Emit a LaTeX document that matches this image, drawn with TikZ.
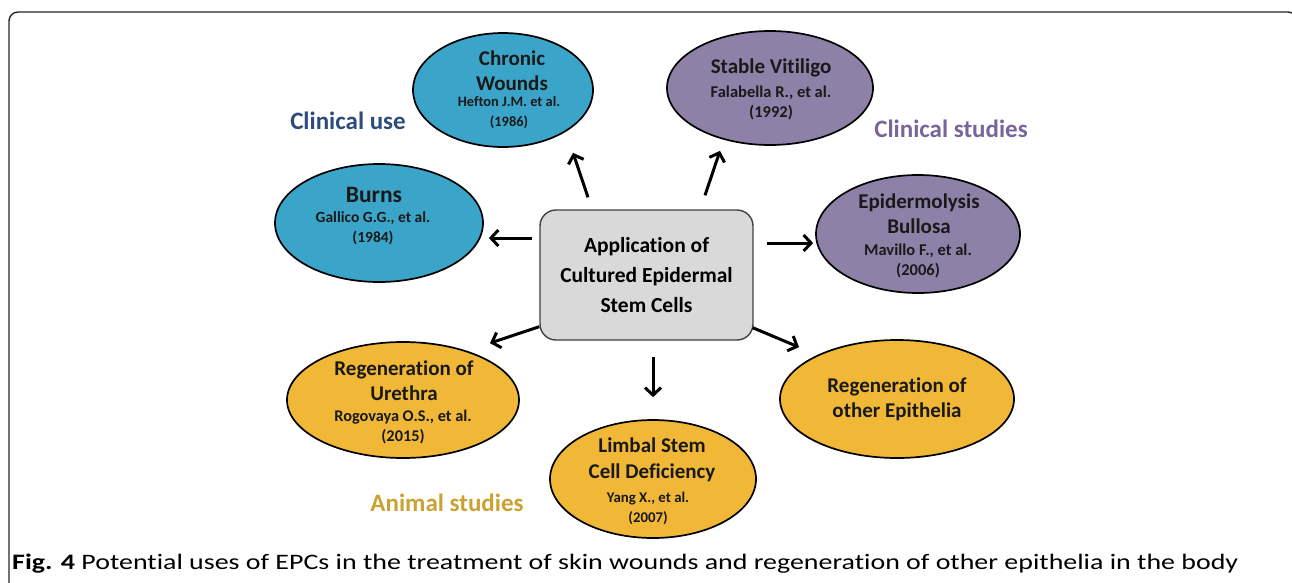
\documentclass[tikz,border=0pt]{standalone}
\usepackage{fontspec}
\setmainfont{Carlito}[Ligatures=NoCommon]
\usetikzlibrary{shapes.geometric,arrows.meta,calc}
\definecolor{cblue}{HTML}{3BA4C9}
\definecolor{cpurple}{HTML}{8D81A8}
\definecolor{cyellow}{HTML}{F1B838}
\definecolor{lblue}{HTML}{2D4C7C}
\definecolor{lpurple}{HTML}{76669A}
\definecolor{lyellow}{HTML}{C9A232}
\definecolor{boxgray}{HTML}{D9D9D9}
\begin{document}
\begin{tikzpicture}[x=1pt,y=-1pt,
  oval/.style={ellipse, draw=black, line width=1.7pt, inner sep=0pt},
  ttl/.style={align=center, font=\bfseries\fontsize{21}{25.5}\selectfont, inner sep=0pt, text=black!90},
  refs/.style={align=center, font=\bfseries\fontsize{#1}{20}\selectfont, inner sep=0pt, text=black!90},
  refs/.default=16,
  grp/.style={font=\bfseries\fontsize{25}{30}\selectfont, inner sep=0pt},
  arr/.style={line width=3pt, -{Straight Barb[length=7.5pt,width=16pt]}},
]
\useasboundingbox (0,0) rectangle (1292,582);
\begin{scope}
  \clip (0,0) rectangle (1292,582);
  \draw[line width=1.4pt, rounded corners=9pt, draw=black!85] (9,12) rectangle (1297,640);
\end{scope}

% ellipses
\node[oval, fill=cblue, minimum width=180pt, minimum height=114pt] (cw) at (503,90) {};
\node[oval, fill=cpurple, minimum width=206pt, minimum height=114pt] (sv) at (770,88) {};
\node[oval, fill=cblue, minimum width=208pt, minimum height=118pt] (bu) at (379,223) {};
\node[oval, fill=cpurple, minimum width=204pt, minimum height=118pt] (eb) at (918,234) {};
\node[oval, fill=cyellow, minimum width=232pt, minimum height=116pt] (ur) at (403,400) {};
\node[oval, fill=cyellow, minimum width=206pt, minimum height=118pt] (ls) at (653,479) {};
\node[oval, fill=cyellow, minimum width=234pt, minimum height=118pt] (oe) at (897,399) {};

% ellipse texts
\node[ttl] (cw-t) at (512,70.5) {Chronic\\Wounds};
\node[refs=14.4] (cw-r) at (509,112.5) {Hefton J.M. et al.\\(1986)};
\node[ttl] (sv-t) at (771,68) {Stable Vitiligo};
\node[refs=16.5] (sv-r) at (771,102.5) {Falabella R., et al.\\(1992)};
\node[ttl, font=\bfseries\fontsize{23.5}{25.5}\selectfont] (bu-t) at (374,195) {Burns};
\node[refs=15.5] (bu-r) at (373,228) {Gallico G.G., et al.\\(1984)};
\node[ttl] (eb-t) at (919,213.5) {Epidermolysis\\Bullosa};
\node[refs=16.5] (eb-r) at (918,261) {Mavillo F., et al.\\(2006)};
\node[ttl] (ur-t) at (404,380.5) {Regeneration of\\Urethra};
\node[refs=16.3] (ur-r) at (403,427.5) {Rogovaya O.S., et al.\\(2015)};
\node[ttl] (ls-t) at (652,460) {Limbal Stem\\Cell Deficiency};
\node[refs=14.8] (ls-r) at (648,508) {Yang X., et al.\\(2007)};
\node[ttl] (oe-t) at (897,399.5) {Regeneration of\\other Epithelia};

% central box
\node[draw=black!75, line width=1.4pt, rounded corners=16pt, fill=boxgray,
      minimum width=213pt, minimum height=130pt, align=center, inner sep=0pt,
      font=\bfseries\fontsize{21.5}{30}\selectfont] (c) at (646.5,275)
      {Application of\\Cultured Epidermal\\Stem Cells};

% group labels
\node[grp, text=lblue] (lcu) at (348,121) {Clinical use};
\node[grp, text=lpurple] (lcs) at (951,129) {Clinical studies};
\node[grp, text=lyellow] (las) at (447,503) {Animal studies};

% arrows
\draw[arr] ([shift={(-58.5,-12)}]c.north) -- ([shift={(70,5)}]cw.south);
\draw[arr] ([shift={(58.5,-14)}]c.north) -- ([shift={(-50,5)}]sv.south);
\draw[arr] ([shift={(-7,-37)}]c.west) -- ([shift={(5,15)}]bu.east);
\draw[arr] ([shift={(13,-32)}]c.east) -- ([shift={(-2,9)}]eb.west);
\draw[arr] ([shift={(0,-14)}]c.south west) -- ([shift={(87,2)}]ur.north);
\draw[arr] ([shift={(6.5,16)}]c.south) -- ([shift={(0,-22)}]ls.north);
\draw[arr] ([shift={(-1,-13)}]c.south east) -- ([shift={(-98,8)}]oe.north);

% caption
\node[anchor=base west, inner sep=0pt] (cap) at (12,569)
  {\resizebox{1226pt}{15.5pt}{\fontsize{20}{24}\selectfont\textbf{Fig. 4} Potential uses of EPCs in the treatment of skin wounds and regeneration of other epithelia in the body}};
\end{tikzpicture}
\end{document}
